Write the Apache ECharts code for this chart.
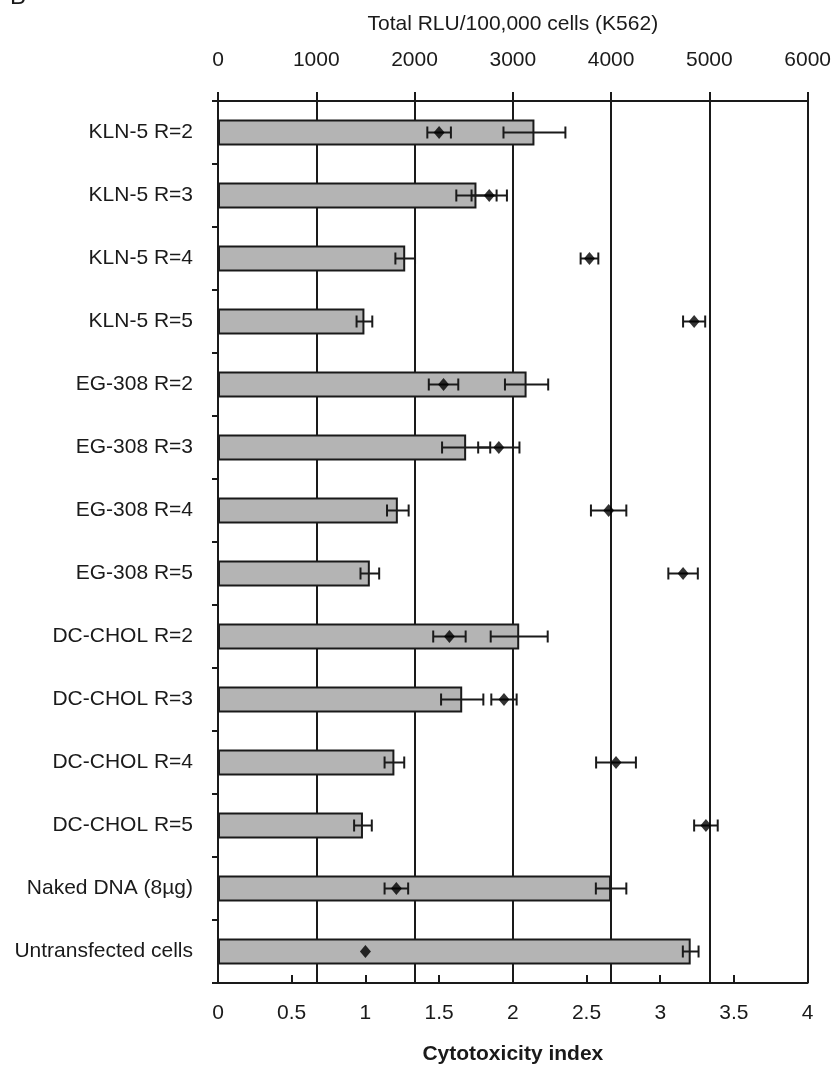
<!DOCTYPE html>
<html>
<head>
<meta charset="utf-8">
<script src="https://cdn.jsdelivr.net/npm/echarts@6/dist/echarts.min.js"></script>
<style>
  html, body { margin: 0; padding: 0; background: #fff; }
  #chart { width: 834px; height: 1070px; }
</style>
</head>
<body>
<div id="chart"></div>
<script>
// ---- Data ----
const categories = [
  'KLN-5 R=2', 'KLN-5 R=3', 'KLN-5 R=4', 'KLN-5 R=5',
  'EG-308 R=2', 'EG-308 R=3', 'EG-308 R=4', 'EG-308 R=5',
  'DC-CHOL R=2', 'DC-CHOL R=3', 'DC-CHOL R=4', 'DC-CHOL R=5',
  'Naked DNA (8µg)', 'Untransfected cells'
];
// Bars: Total RLU/100,000 cells (K562), top axis
const rluValues = [3220, 2630, 1905, 1490, 3140, 2525, 1830, 1545, 3065, 2485, 1795, 1475, 4000, 4810];
const rluErrors = [315, 205, 100, 80, 220, 245, 110, 95, 290, 215, 100, 90, 155, 80];
// Points: Cytotoxicity index, bottom axis
const cytoValues = [1.50, 1.84, 2.52, 3.23, 1.53, 1.905, 2.65, 3.155, 1.57, 1.94, 2.70, 3.31, 1.21, 1.00];
const cytoErrors = [0.08, 0.12, 0.06, 0.075, 0.10, 0.14, 0.12, 0.10, 0.11, 0.086, 0.135, 0.08, 0.08, 0];
const topTicks = { min: 0, max: 6000, interval: 1000 };
const bottomTicks = { min: 0, max: 4, interval: 0.5 };
const topTitle = 'Total RLU/100,000 cells (K562)';
const bottomTitle = 'Cytotoxicity index';
const panelLetter = 'B';

// ---- Chart ----
const FONT = '"Liberation Sans", Arial, Helvetica, sans-serif';
const INK = '#1a1a1a';
const chart = echarts.init(document.getElementById('chart'), null, { renderer: 'canvas' });

function errorData(vals, errs) {
  return vals.map((v, i) => [v - errs[i], v + errs[i], i]);
}
function renderErr(params, api) {
  const lo = api.coord([api.value(0), api.value(2)]);
  const hi = api.coord([api.value(1), api.value(2)]);
  if (hi[0] - lo[0] < 0.5) return null;
  const h = 6;
  const st = { stroke: INK, lineWidth: 2 };
  return {
    type: 'group',
    children: [
      { type: 'line', shape: { x1: lo[0], y1: lo[1], x2: hi[0], y2: hi[1] }, style: st },
      { type: 'line', shape: { x1: lo[0], y1: lo[1] - h, x2: lo[0], y2: lo[1] + h }, style: st },
      { type: 'line', shape: { x1: hi[0], y1: hi[1] - h, x2: hi[0], y2: hi[1] + h }, style: st }
    ]
  };
}

const option = {
  backgroundColor: '#ffffff',
  animation: false,
  textStyle: { fontFamily: FONT },
  grid: { left: 218, right: 26, top: 101, bottom: 87, containLabel: false },
  graphic: [{
    type: 'text', left: 10, top: -15,
    style: { text: panelLetter, font: '24px ' + FONT, fill: INK }
  }],
  xAxis: [
    {
      type: 'value', position: 'top',
      min: topTicks.min, max: topTicks.max, interval: topTicks.interval,
      name: topTitle, nameLocation: 'middle', nameGap: 66,
      nameTextStyle: { fontSize: 21, color: INK, fontFamily: FONT },
      axisLine: { show: true, lineStyle: { color: INK, width: 2 } },
      axisTick: { show: true, inside: false, length: 9, lineStyle: { color: INK, width: 2 } },
      axisLabel: { fontSize: 21, color: INK, margin: 30, fontFamily: FONT,
        formatter: v => String(v) },
      splitLine: { show: true, showMinLine: false, showMaxLine: true, lineStyle: { color: INK, width: 2 } }
    },
    {
      type: 'value', position: 'bottom',
      min: bottomTicks.min, max: bottomTicks.max, interval: bottomTicks.interval,
      name: bottomTitle, nameLocation: 'middle', nameGap: 61,
      nameTextStyle: { fontSize: 21, fontWeight: 'bold', color: INK, fontFamily: FONT },
      axisLine: { show: true, lineStyle: { color: INK, width: 2 } },
      axisTick: { show: true, inside: true, length: 8, lineStyle: { color: INK, width: 2 } },
      axisLabel: { fontSize: 21, color: INK, margin: 20, fontFamily: FONT,
        formatter: v => String(v) },
      splitLine: { show: false }
    }
  ],
  yAxis: {
    type: 'category', data: categories, inverse: true,
    axisLine: { show: true, lineStyle: { color: INK, width: 2 } },
    axisTick: { show: true, inside: false, length: 6, lineStyle: { color: INK, width: 2 } },
    axisLabel: { fontSize: 21, color: INK, margin: 25, fontFamily: FONT },
    splitLine: { show: false }
  },
  series: [
    {
      type: 'bar', xAxisIndex: 0, data: rluValues, barWidth: 26,
      itemStyle: { color: '#b4b4b4', borderColor: INK, borderWidth: 2 },
      z: 2
    },
    {
      type: 'custom', xAxisIndex: 0, renderItem: renderErr,
      data: errorData(rluValues, rluErrors), encode: { x: [0, 1], y: 2 }, z: 3
    },
    {
      type: 'custom', xAxisIndex: 1, renderItem: renderErr,
      data: errorData(cytoValues, cytoErrors), encode: { x: [0, 1], y: 2 }, z: 4
    },
    {
      type: 'scatter', xAxisIndex: 1,
      data: cytoValues.map((v, i) => [v, i]),
      symbol: 'diamond', symbolSize: [11, 13],
      itemStyle: { color: '#000' }, z: 5
    }
  ]
};
chart.setOption(option);
</script>
</body>
</html>
